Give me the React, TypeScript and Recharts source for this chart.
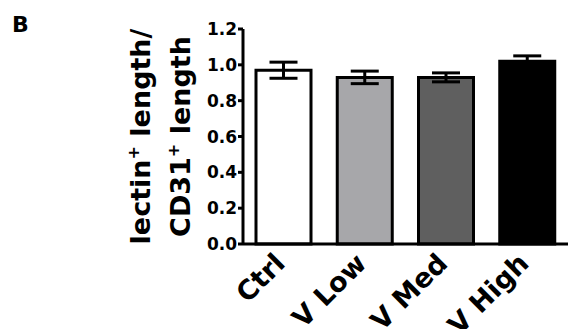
import { BarChart, Bar, XAxis, YAxis, ErrorBar, Cell } from "recharts";

const groups = ["Ctrl", "V Low", "V Med", "V High"];
const means = [0.97, 0.93, 0.93, 1.02];
const sems = [0.045, 0.035, 0.025, 0.03];
const fills = ["#ffffff", "#a7a7aa", "#5f5f5f", "#000000"];
const yTicks = [0, 0.2, 0.4, 0.6, 0.8, 1.0, 1.2];

const data = groups.map((g, i) => ({ group: g, value: means[i], err: sems[i] }));

const FONT = "'DejaVu Sans', sans-serif";

function XTick({ x, y, payload }: any) {
    return (
        <text
            transform={`translate(${x + 3},${y + 21}) rotate(-45)`}
            textAnchor="end"
            fontSize={27}
            fontWeight="bold"
            fontFamily={FONT}
            fill="#000"
        >
            {payload.value}
        </text>
    );
}

function YLabel({ viewBox }: any) {
    const cy = viewBox.y + viewBox.height / 2;
    return (
        <g fontFamily={FONT} fontWeight="bold" fontSize={27} fill="#000">
            <text transform={`translate(150,${cy}) rotate(-90)`} textAnchor="middle">
                lectin
                <tspan fontSize={16} dy={-11}>+</tspan>
                <tspan dy={11}> length/</tspan>
            </text>
            <text transform={`translate(190,${cy}) rotate(-90)`} textAnchor="middle">
                CD31
                <tspan fontSize={16} dy={-11}>+</tspan>
                <tspan dy={11}> length</tspan>
            </text>
        </g>
    );
}

export default function App() {
    return (
        <div style={{ position: "absolute", left: 0, top: 0, width: 568, height: 329, background: "#fff" }}>
            <div
                style={{
                    position: "absolute",
                    left: 12,
                    top: 14,
                    fontFamily: FONT,
                    fontWeight: "bold",
                    fontSize: 22,
                    lineHeight: "22px",
                }}
            >
                B
            </div>
            <BarChart
                width={568}
                height={329}
                data={data}
                margin={{ top: 29, right: 0, left: 0, bottom: 0 }}
                barCategoryGap="16%"
            >
                <XAxis
                    dataKey="group"
                    height={85}
                    tickLine={false}
                    tickSize={0}
                    tickMargin={0}
                    axisLine={{ stroke: "#000", strokeWidth: 3 }}
                    tick={<XTick />}
                    interval={0}
                />
                <YAxis
                    width={243}
                    domain={[0, 1.2]}
                    ticks={yTicks}
                    tickFormatter={(v: number) => v.toFixed(1)}
                    tick={{ fontSize: 17, fontWeight: "bold", fontFamily: FONT, fill: "#000" }}
                    tickLine={{ stroke: "#000", strokeWidth: 3 }}
                    tickSize={5}
                    tickMargin={1}
                    axisLine={{ stroke: "#000", strokeWidth: 3 }}
                    label={{ content: <YLabel /> }}
                />
                <Bar dataKey="value" stroke="#000" strokeWidth={3} isAnimationActive={false}>
                    {data.map((d, i) => (
                        <Cell key={d.group} fill={fills[i]} />
                    ))}
                    <ErrorBar dataKey="err" width={14} stroke="#000" strokeWidth={3} direction="y" />
                </Bar>
            </BarChart>
        </div>
    );
}
